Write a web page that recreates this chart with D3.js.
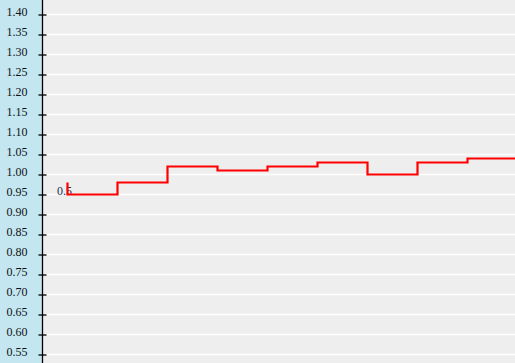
<!DOCTYPE html>
<html><head><meta charset="utf-8">
<script src="https://cdn.jsdelivr.net/npm/d3@7/dist/d3.min.js"></script>
<style>body{margin:0;background:#eeeeee;}svg{display:block;}</style>
</head><body>
<svg id="c" width="515" height="363"></svg>
<script>
const yTicks = [1.40,1.35,1.30,1.25,1.20,1.15,1.10,1.05,1.00,0.95,0.90,0.85,0.80,0.75,0.70,0.65,0.60,0.55];
const steps = [0,1,2,3,4,5,6,7,8,9];
const values = [0.98,0.95,0.98,1.02,1.01,1.02,1.03,1.00,1.03,1.04];
const labelText = "0.5";

const W = 515, H = 363;
const svg = d3.select("#c");
const y = d3.scaleLinear().domain([0.55, 1.40]).range([354.5, 14.5]);
const x = d3.scaleLinear().domain([0, 9]).range([67.5, 517.5]);
const axisX = 42.5;

svg.append("rect").attr("x",0).attr("y",0).attr("width",W).attr("height",H).attr("fill","#eeeeee");
svg.append("rect").attr("x",0).attr("y",0).attr("width",42).attr("height",H).attr("fill","#c3e6f1");

// gridlines
svg.append("g").selectAll("line").data(yTicks).join("line")
  .attr("x1",46).attr("x2",W).attr("y1",d=>y(d)).attr("y2",d=>y(d))
  .attr("stroke","#ffffff").attr("stroke-width",1.3);

// axis
const ax = svg.append("g").attr("transform",`translate(${axisX},0)`)
  .call(d3.axisLeft(y).tickValues(yTicks).tickFormat(d3.format(".2f")).tickSize(4).tickPadding(11));
ax.select(".domain").remove();
ax.selectAll(".tick line").attr("x1",-4).attr("x2",4).attr("stroke","#000").attr("stroke-width",1.3);
ax.selectAll(".tick text").attr("font-family","'Liberation Serif', 'Times New Roman', serif")
  .attr("font-size",12).attr("fill","#111").attr("dy","0.12em");
svg.append("line").attr("x1",axisX).attr("x2",axisX).attr("y1",0).attr("y2",H)
  .attr("stroke","#000").attr("stroke-width",1.3);

// label
svg.append("text").attr("x",57).attr("y",195).text(labelText)
  .attr("font-family","'Liberation Serif', 'Times New Roman', serif").attr("font-size",12).attr("fill","#22305a");

// step line
const line = d3.line().x((d,i)=>x(steps[i])).y(d=>y(d)).curve(d3.curveStepBefore);
svg.append("path").datum(values).attr("d",line).attr("fill","none")
  .attr("stroke","#ff0000").attr("stroke-width",2.2);
</script>
</body></html>
